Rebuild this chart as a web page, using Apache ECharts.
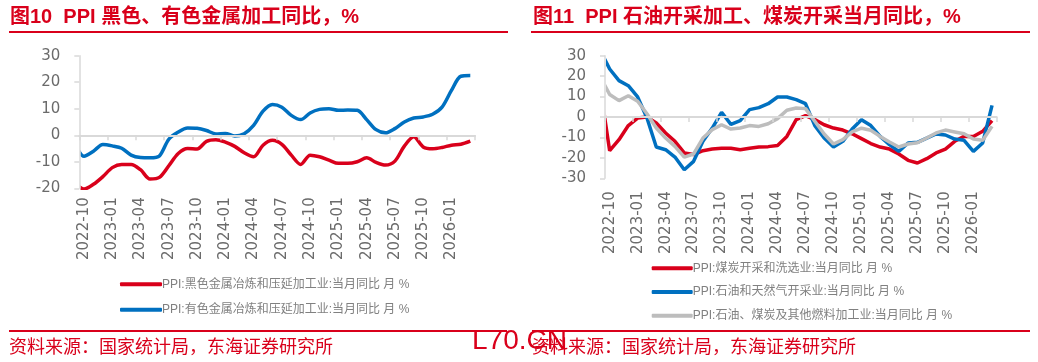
<!DOCTYPE html>
<html><head><meta charset="utf-8">
<script src="https://cdn.jsdelivr.net/npm/echarts@6/dist/echarts.min.js"></script>
<style>html,body{margin:0;padding:0;background:#fff}#c{width:1038px;height:362px}</style>
</head><body><div id="c"></div>
<script>
// months; the first one (2022-09) lies just left of the axis and is clipped
const months = ['2022-09','2022-10','2022-11','2022-12','2023-01','2023-02','2023-03','2023-04','2023-05','2023-06','2023-07','2023-08','2023-09','2023-10','2023-11','2023-12','2024-01','2024-02','2024-03','2024-04','2024-05','2024-06','2024-07','2024-08','2024-09','2024-10','2024-11','2024-12','2025-01','2025-02','2025-03','2025-04','2025-05','2025-06','2025-07','2025-08','2025-09','2025-10','2025-11','2025-12','2026-01','2026-02','2026-03'];
const axisMonths = months.slice(1);

// Figure 10
const ferrous = [-17.7,-20.3,-18.5,-15.6,-12.2,-11,-11,-13,-16.5,-15.9,-11.5,-6.9,-5,-5.2,-2.3,-1.7,-2.6,-4.2,-6.6,-8.1,-3.75,-1.9,-3.4,-7.5,-11,-7.5,-8.1,-9.4,-10.6,-10.6,-10,-8.5,-10.25,-11.25,-9.75,-4.1,-0.6,-4.4,-5.1,-4.6,-3.75,-3.4,-2.25];
const nonferrous = [-3.1,-7.9,-6,-3.5,-4,-4.9,-7.5,-8.4,-8.5,-7.8,-1.5,1.2,2.7,2.6,1.8,0.5,0.7,-0.3,0.6,3.75,9.1,11.6,10.6,7.5,5.9,8.4,9.75,10,9.4,9.5,9.4,5.9,2.1,0.9,2.5,5,6.5,6.9,7.9,10.6,16.9,22.25,22.5];
// Figure 11
const coal = [13.9,-16.5,-11.1,-4.2,-0.5,0,-2.9,-7.8,-11.9,-17.6,-18.4,-16.5,-15.7,-15.3,-15.3,-16,-15.3,-14.7,-14.5,-14,-9.5,-1.3,0.7,-1.3,-3.8,-5.4,-6.4,-8.2,-10.6,-13,-14.7,-15.7,-18.1,-21.2,-22.5,-20.4,-17.6,-15.7,-11.9,-9.5,-9.5,-7,-1.8];
const oilgas = [32.5,23.5,17.8,15.3,9.8,-0.5,-14.7,-16,-19.6,-25.8,-21.7,-11.9,-5.4,2.3,-3.6,-1.8,3.6,4.6,6.5,9.8,9.8,8.5,6.5,-4.2,-10.3,-14.7,-11.9,-5.9,-1.3,-4.2,-9.5,-13.5,-16.8,-12.7,-12.4,-10.3,-8.3,-8.8,-10.8,-11.4,-16.8,-12.7,5.7];
const fuelproc = [19.6,11,8,10.4,7.7,1.6,-5.4,-10.3,-14.4,-19.6,-18.1,-10.3,-6.2,-3.8,-5.9,-5.4,-4.2,-4.6,-3.3,-0.8,3.3,4.4,4.1,-2.1,-8.3,-13.2,-11.1,-7.3,-5.5,-6.5,-9.5,-12.2,-14.7,-13.2,-12.6,-10.3,-7.8,-6.4,-7.3,-8.2,-10.8,-11.4,-4.6];

const names10 = ['PPI:黑色金属冶炼和压延加工业:当月同比 月 %','PPI:有色金属冶炼和压延加工业:当月同比 月 %'];
const names11 = ['PPI:煤炭开采和洗选业:当月同比 月 %','PPI:石油和天然气开采业:当月同比 月 %','PPI:石油、煤炭及其他燃料加工业:当月同比 月 %'];
const titles = ['图10  PPI 黑色、有色金属加工同比，%','图11  PPI 石油开采加工、煤炭开采当月同比，%'];
const source = '资料来源：国家统计局，东海证券研究所';
const mark = 'L70.CN';

const RED = '#d9001b', BLUE = '#0070c0', GRAY = '#bdbdbd', AX = '#d9d9d9';
const NUM = 'DejaVu Sans, sans-serif';
const CJK = 'Liberation Sans, "Noto Sans CJK SC", sans-serif';

function xAxesFor(g, labelMargin) {
  return [
    {type:'category', gridIndex:g, data:axisMonths, boundaryGap:true, z:5,
     axisLine:{show:true, onZero:true, lineStyle:{color:AX, width:2}},
     axisTick:{show:true, interval:2, length:5, lineStyle:{color:AX, width:1.5}},
     axisLabel:{show:false}, splitLine:{show:false}},
    {type:'category', gridIndex:g, data:axisMonths, boundaryGap:true, position:'bottom',
     axisLine:{show:false, onZero:false}, axisTick:{show:false}, splitLine:{show:false},
     axisLabel:{show:true, interval:2, rotate:90, margin:labelMargin, fontSize:15, color:'#6b6b6b', fontFamily:NUM}},
    {type:'value', gridIndex:g, min:-0.5, max:41.5, show:false}
  ];
}
function yAxisFor(g, min, max) {
  return {type:'value', gridIndex:g, min:min, max:max, interval:10, z:5,
    axisLine:{show:true, onZero:false, lineStyle:{color:AX, width:1.5}},
    axisTick:{show:true, length:5, lineStyle:{color:AX, width:1.5}},
    splitLine:{show:false},
    axisLabel:{fontSize:15, color:'#6b6b6b', fontFamily:NUM, margin:19}};
}
function lineSeries(name, arr, color, xi, yi, smooth) {
  return {type:'line', name:name, xAxisIndex:xi, yAxisIndex:yi, clip:true, z:2,
    data: arr.map((v, k) => [k - 1, v]), showSymbol:false, symbol:'none', smooth:smooth,
    lineStyle:{color:color, width:3.5}, itemStyle:{color:color}};
}
function txt(x, y, s, size, weight, fam) {
  return {type:'text', x:x, y:y, z:10, style:{text:s, fill:RED, font: weight+' '+size+'px '+fam, textVerticalAlign:'middle'}};
}
function rule(x, y, w) {
  return {type:'rect', shape:{x:x, y:y, width:w, height:2}, style:{fill:RED}, z:10};
}
function mask(x, y, w, h) {
  return {type:'rect', shape:{x:x, y:y, width:w, height:h}, style:{fill:'#ffffff'}, z:3};
}

const chart = echarts.init(document.getElementById('c'));
chart.setOption({
  animation:false,
  backgroundColor:'#ffffff',
  grid:[
    {left:79.3, top:55.7, width:395.7, height:132.6},
    {left:605, top:55.7, width:391.7, height:122.6}
  ],
  xAxis: xAxesFor(0, 9).concat(xAxesFor(1, 13)),
  yAxis: [yAxisFor(0, -20, 30), yAxisFor(1, -30, 30)],
  legend:[
    {orient:'vertical', left:115, top:272.2, itemWidth:42, itemHeight:4, itemGap:11.6, icon:'roundRect',
     data:names10, textStyle:{fontSize:12, lineHeight:14, color:'#808080', fontFamily:CJK, padding:[0,0,0,-5]}},
    {orient:'vertical', left:646.7, top:256.2, itemWidth:41, itemHeight:4, itemGap:9.8, icon:'roundRect',
     data:names11, textStyle:{fontSize:12, lineHeight:14, color:'#808080', fontFamily:CJK, padding:[0,0,0,-5]}}
  ],
  series:[
    lineSeries(names10[0], ferrous, RED, 2, 0, 0.3),
    lineSeries(names10[1], nonferrous, BLUE, 2, 0, 0.3),
    lineSeries(names11[0], coal, RED, 5, 1, false),
    lineSeries(names11[1], oilgas, BLUE, 5, 1, false),
    lineSeries(names11[2], fuelproc, GRAY, 5, 1, false)
  ],
  graphic:[
    mask(66, 45, 14.2, 150),
    mask(592, 45, 13.9, 140),
    txt(10, 17, titles[0], 20, 'bold', CJK),
    txt(533, 17, titles[1], 20, 'bold', CJK),
    rule(9, 31, 499),
    rule(531, 31, 499),
    rule(9, 330, 498),
    rule(532, 330, 498),
    txt(9, 346, source, 18, 'normal', '"Noto Sans CJK SC", sans-serif'),
    txt(532, 346, source, 18, 'normal', '"Noto Sans CJK SC", sans-serif'),
    txt(472, 341, mark, 28, 'normal', 'Liberation Sans, sans-serif')
  ]
});
</script></body></html>
